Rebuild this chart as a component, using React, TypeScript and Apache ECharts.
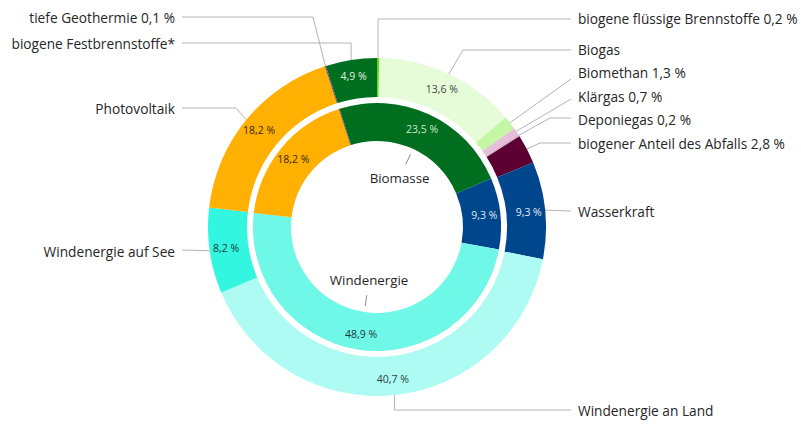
import React, { useEffect, useRef } from "react";
import * as echarts from "echarts";

// ---------- data ----------
const outerNames = [
  "biogene Festbrennstoffe*",
  "biogene flüssige Brennstoffe",
  "Biogas",
  "Biomethan",
  "Klärgas",
  "Deponiegas",
  "biogener Anteil des Abfalls",
  "Wasserkraft",
  "Windenergie an Land",
  "Windenergie auf See",
  "Photovoltaik",
  "tiefe Geothermie",
];
const outerValues = [4.9, 0.2, 13.6, 1.3, 0.7, 0.2, 2.8, 9.3, 40.7, 8.2, 18.2, 0.1];
const outerNameShowsValue = [false, true, false, true, true, true, true, false, false, false, false, true];
const outerValueInside = [true, false, true, false, false, false, false, true, true, true, true, false];

const innerNames = ["Biomasse", "Wasserkraft", "Windenergie", "Photovoltaik", "tiefe Geothermie"];
const innerValues = [23.5, 9.3, 48.9, 18.2, 0.1];
const innerValueInside = [true, true, true, true, false];
const innerCenterLabel = [true, false, true, false, false];

// ---------- styles ----------
const outerColors = [
  "#006e1f", "#5ae000", "#e6fcd9", "#c4f7a3", "#e6bfd8", "#dcaecb",
  "#5c0033", "#00468c", "#adfbf2", "#33f6e1", "#ffb000", "#6a3d6a",
];
const outerPctColors = [
  "#e4f0e4", "#333", "#444", "#333", "#333", "#333",
  "#333", "#e2e9f3", "#2a4444", "#1e3a3a", "#3a2c00", "#333",
];
const innerColors = ["#006e1f", "#00468c", "#6ff7e7", "#ffb000", "#6a3d6a"];
const innerPctColors = ["#cfe6cf", "#dde6f2", "#1e3a3a", "#3a2c00", "#333"];

const FONT = "Open Sans";
const CX = 377;
const CY = 227;
const OUTER_R: [number, number] = [130, 169];
const INNER_R: [number, number] = [86, 124];
const LINE_COLOR = "#b4b4b4";

type LabelPos = { side: "left" | "right"; ty: number; vert?: number; pts?: number[][] };
// label placement (layout only)
const outerLabelLayout: LabelPos[] = [
  { side: "left", ty: 43, vert: 43, pts: [[182, 43]] },
  { side: "right", ty: 18, vert: 19, pts: [[571, 19]] },
  { side: "right", ty: 49, pts: [[463, 50], [571, 50]] },
  { side: "right", ty: 72, pts: [[571, 79]] },
  { side: "right", ty: 96, pts: [[571, 99]] },
  { side: "right", ty: 119, pts: [[550, 118], [571, 118]] },
  { side: "right", ty: 143, pts: [[540, 143], [571, 143]] },
  { side: "right", ty: 211, pts: [[571, 211]] },
  { side: "right", ty: 410, vert: 410, pts: [[571, 410]] },
  { side: "left", ty: 251, pts: [[182, 250]] },
  { side: "left", ty: 108, pts: [[236, 108], [182, 108]] },
  { side: "left", ty: 17, pts: [[313, 17], [182, 17]] },
];

const fmtPct = (v: number) => v.toFixed(1).replace(".", ",") + " %";

const sum = (a: number[]) => a.reduce((s, v) => s + v, 0);
const outerTotal = sum(outerValues);
const innerTotal = sum(innerValues);
const START = 90 + (outerValues[0] / outerTotal) * 360;

function midAngle(values: number[], total: number, i: number) {
  let cum = 0;
  for (let k = 0; k < i; k++) cum += values[k];
  const frac = (cum + values[i] / 2) / total;
  return ((START - frac * 360) * Math.PI) / 180;
}
function polar(theta: number, r: number) {
  return [CX + r * Math.cos(theta), CY - r * Math.sin(theta)];
}

export default function App() {
  const ref = useRef<HTMLDivElement>(null);
  useEffect(() => {
    document.body.style.margin = "0";
    if (!ref.current) return;
    const chart = echarts.init(ref.current, undefined, { renderer: "svg" });

    const transparent = "rgba(0,0,0,0)";

    const option: any = {
      animation: false,
      backgroundColor: "#ffffff",
      textStyle: { fontFamily: FONT },
      series: [
        {
          type: "pie",
          silent: true,
          center: [CX, CY],
          radius: OUTER_R,
          startAngle: START,
          avoidLabelOverlap: false,
          data: outerNames.map((n, i) => ({
            name: n,
            value: outerValues[i],
            itemStyle: { color: outerColors[i] },
          })),
          label: {
            show: true,
            position: "outside",
            fontFamily: FONT,
            fontSize: 13.7,
            color: "#262626",
            formatter: (p: any) =>
              outerNameShowsValue[p.dataIndex] ? `${p.name} ${fmtPct(p.value)}` : p.name,
          },
          labelLine: {
            show: true,
            length: 10,
            length2: 10,
            smooth: false,
            lineStyle: { color: LINE_COLOR, width: 1 },
          },
          labelLayout: (params: any) => {
            const i = params.dataIndex;
            const L = outerLabelLayout[i];
            const a = polar(midAngle(outerValues, outerTotal, i), OUTER_R[1]);
            const pts: number[][] = [a];
            if (L.vert != null) pts.push([a[0], L.vert]);
            (L.pts || []).forEach((p) => pts.push(p));
            while (pts.length < 3) pts.push(pts[pts.length - 1]);
            return {
              x: L.side === "left" ? 175 : 578,
              y: L.ty,
              align: L.side === "left" ? "right" : "left",
              verticalAlign: "middle",
              labelLinePoints: pts,
            };
          },
        },
        {
          type: "pie",
          silent: true,
          center: [CX, CY],
          radius: OUTER_R,
          startAngle: START,
          avoidLabelOverlap: false,
          data: outerNames.map((n, i) => ({
            name: n,
            value: outerValues[i],
            itemStyle: { color: transparent },
            label: { show: outerValueInside[i], color: outerPctColors[i] },
          })),
          label: {
            position: "inside",
            fontFamily: FONT,
            fontSize: 10.5,
            formatter: (p: any) => fmtPct(p.value),
          },
          labelLine: { show: false },
        },
        {
          type: "pie",
          silent: true,
          center: [CX, CY],
          radius: INNER_R,
          startAngle: START,
          avoidLabelOverlap: false,
          data: innerNames.map((n, i) => ({
            name: n,
            value: innerValues[i],
            itemStyle: { color: innerColors[i] },
            label: { show: innerValueInside[i], color: innerPctColors[i] },
          })),
          label: {
            position: "inside",
            fontFamily: FONT,
            fontSize: 10.5,
            formatter: (p: any) => fmtPct(p.value),
          },
          labelLine: { show: false },
        },
        {
          type: "pie",
          silent: true,
          center: [CX, CY],
          radius: INNER_R,
          startAngle: START,
          avoidLabelOverlap: false,
          data: innerNames.map((n, i) => ({
            name: n,
            value: innerValues[i],
            itemStyle: { color: transparent },
            label: { show: innerCenterLabel[i] },
            labelLine: { show: innerCenterLabel[i] },
          })),
          label: {
            position: "outside",
            fontFamily: FONT,
            fontSize: 13.3,
            color: "#262626",
            formatter: (p: any) => p.name,
          },
          labelLine: {
            smooth: false,
            length: 5,
            length2: 5,
            lineStyle: { color: "#8c8c8c", width: 1 },
          },
          labelLayout: (params: any) => {
            const i = params.dataIndex;
            const th = midAngle(innerValues, innerTotal, i);
            const t = polar(th, 54);
            const p1 = polar(th, 80);
            const p2 = polar(th, 69);
            return {
              x: t[0],
              y: t[1],
              align: "center",
              verticalAlign: "middle",
              labelLinePoints: [p1, p2, p2],
            };
          },
        },
      ],
    };
    chart.setOption(option);
    return () => chart.dispose();
  }, []);
  return <div ref={ref} style={{ width: 801, height: 425 }} />;
}
